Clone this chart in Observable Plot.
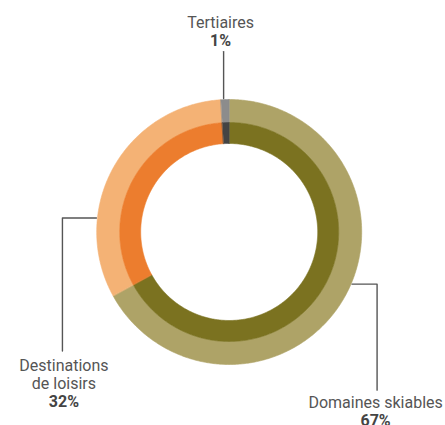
<!DOCTYPE html>
<html><head><meta charset="utf-8">
<script src="https://cdn.jsdelivr.net/npm/d3@7"></script>
<script src="https://cdn.jsdelivr.net/npm/@observablehq/plot@0.6"></script>
<style>body{margin:0;background:#fff;} svg{display:block;}</style>
</head><body><div id="chart"></div>
<script>
// ---- data ----
const categories = ["Domaines skiables", "Destinations de loisirs", "Tertiaires"];
const values = [67, 32, 1];
const percentLabels = ["67%", "32%", "1%"];
const nameLines = [["Domaines skiables"], ["Destinations", "de loisirs"], ["Tertiaires"]];

// ---- styles / layout ----
const outerColors = ["#aea367", "#f4b275", "#8c8c8c"];
const innerColors = ["#7b7220", "#ec7d2e", "#444444"];
const W = 445, H = 425, cx = 228.7, cy = 231.5;
const rOuter = 132.5, rMid = 109.5, rInner = 88.5;
// leader: angle (deg, clockwise from top), horizontal run, vertical run, text offset, first baseline offset
const leaderLayout = [
  {angle: 113, run: 25, drop: 106, tdx: -1.5, tdy: 17.5},
  {angle: 276, run: -34, drop: 133, tdx: 1.5, tdy: 19.5},
  {angle: 357.6, run: 0, drop: -47, tdx: -3, tdy: -24}
];
const lineStep = 18;

const data = categories.map((c, i) => ({category: c, value: values[i], i}));
const arcs = d3.pie().sort(null).value(d => d.value)(data);

const polar = (a, r) => [r * Math.sin(a), -r * Math.cos(a)];
function ring(arc, r0, r1) {
  const pts = [];
  const n = Math.max(2, Math.ceil((arc.endAngle - arc.startAngle) * 90));
  for (let k = 0; k <= n; k++) {
    const a = arc.startAngle + (arc.endAngle - arc.startAngle) * k / n;
    const [x, y] = polar(a, r1); pts.push({x, y});
  }
  for (let k = n; k >= 0; k--) {
    const a = arc.startAngle + (arc.endAngle - arc.startAngle) * k / n;
    const [x, y] = polar(a, r0); pts.push({x, y});
  }
  return pts;
}

const marks = [];
arcs.forEach((arc, i) => {
  marks.push(Plot.line(ring(arc, rMid, rOuter), {x: "x", y: "y", curve: "linear-closed", fill: outerColors[i], stroke: outerColors[i], strokeWidth: 0.6}));
  marks.push(Plot.line(ring(arc, rInner, rMid), {x: "x", y: "y", curve: "linear-closed", fill: innerColors[i], stroke: innerColors[i], strokeWidth: 0.6}));
});

const leaders = [];
const nameTexts = [];
const pctTexts = [];
data.forEach((d, i) => {
  const L = leaderLayout[i];
  const [sx, sy] = polar(L.angle * Math.PI / 180, rOuter + 1);
  const ex = sx + L.run, ey = sy + L.drop;
  leaders.push({i, x: sx, y: sy}, {i, x: ex, y: sy}, {i, x: ex, y: ey});
  const tx = ex + L.tdx;
  let by = ey + L.tdy;
  nameLines[i].forEach(t => { nameTexts.push({x: tx, y: by, text: t}); by += lineStep; });
  pctTexts.push({x: tx, y: by, text: percentLabels[i]});
});

marks.push(Plot.line(leaders, {x: "x", y: "y", z: "i", stroke: "#555", strokeWidth: 1.4}));
marks.push(Plot.text(nameTexts, {x: "x", y: "y", text: "text", textAnchor: "middle", lineAnchor: "bottom", fill: "#555", fontSize: 16}));
marks.push(Plot.text(pctTexts, {x: "x", y: "y", text: "text", textAnchor: "middle", lineAnchor: "bottom", fill: "#444", fontSize: 16, fontWeight: "bold"}));

const chart = Plot.plot({
  width: W, height: H,
  margin: 0,
  x: {domain: [-cx, W - cx], range: [0, W], axis: null},
  y: {domain: [-cy, H - cy], range: [0, H], axis: null},
  style: {fontFamily: "Roboto", background: "#fff"},
  marks
});
document.getElementById("chart").appendChild(chart);
</script>
</body></html>
